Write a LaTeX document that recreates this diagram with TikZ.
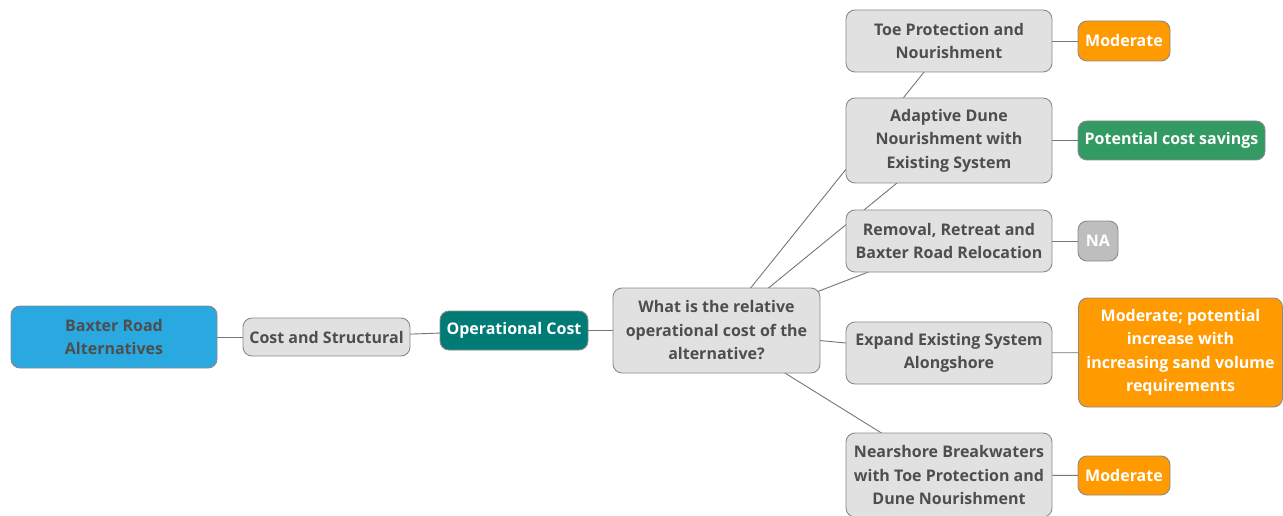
\documentclass[tikz,border=0pt]{standalone}
\usepackage{fontspec}
\setmainfont{Open Sans}
\usetikzlibrary{backgrounds}
\definecolor{rootblue}{HTML}{29A9E0}
\definecolor{tealc}{HTML}{007B76}
\definecolor{boxgrey}{HTML}{E1E1E1}
\definecolor{edgegrey}{HTML}{8A8A8A}
\definecolor{txtgrey}{HTML}{4E4E4E}
\definecolor{orangec}{HTML}{FF9A00}
\definecolor{greenc}{HTML}{349A63}
\definecolor{nagrey}{HTML}{BEBEBE}
\begin{document}
\begin{tikzpicture}[x=1pt,y=-1pt,
  base/.style={draw=edgegrey, line width=0.9pt, rounded corners=9pt, align=center,
    font=\fontsize{16}{23.5}\selectfont\bfseries, inner sep=0pt, text=txtgrey},
  topic/.style={base, fill=boxgrey},
  rootbox/.style={base, fill=rootblue},
  catbox/.style={base, fill=tealc, text=white},
  orangebox/.style={base, fill=orangec, text=white},
  greenbox/.style={base, fill=greenc, text=white},
  nabox/.style={base, fill=nagrey, text=white},
  link/.style={draw=edgegrey!85!black, line width=0.9pt}]
\useasboundingbox (0,0) rectangle (1283,516);

% main chain
\node[rootbox, minimum width=206pt, minimum height=62pt] (root) at (114,337) {Baxter Road\\Alternatives};
\node[topic, minimum width=167pt, minimum height=38pt] (cost) at (326.5,337) {Cost and Structural};
\node[catbox, minimum width=148pt, minimum height=39pt] (opc) at (514,330.5) {Operational Cost};
\node[topic, minimum width=207pt, minimum height=85pt] (q) at (716.5,330.5) {What is the relative\\operational cost of the\\alternative?};

% alternatives
\node[topic, minimum width=206pt, minimum height=62pt] (toe) at (949,41) {Toe Protection and\\Nourishment};
\node[topic, minimum width=206pt, minimum height=85pt] (adapt) at (949,140.5) {Adaptive Dune\\Nourishment with\\Existing System};
\node[topic, minimum width=206pt, minimum height=62pt] (remov) at (949,241) {Removal, Retreat and\\Baxter Road Relocation};
\node[topic, minimum width=206pt, minimum height=62pt] (expand) at (949,353) {Expand Existing System\\Alongshore};
\node[topic, minimum width=206pt, minimum height=84pt] (near) at (949,475) {Nearshore Breakwaters\\with Toe Protection and\\Dune Nourishment};

% ratings
\node[orangebox, minimum width=92pt, minimum height=40pt] (r1) at (1124,41) {Moderate};
\node[greenbox, minimum width=187pt, minimum height=39pt] (r2) at (1171.5,140.5) {Potential cost savings};
\node[nabox, minimum width=40pt, minimum height=40pt] (r3) at (1098,241) {NA};
\node[orangebox, minimum width=204pt, minimum height=109pt] (r4) at (1180.5,352.5) {Moderate; potential\\increase with\\increasing sand volume\\requirements};
\node[orangebox, minimum width=92pt, minimum height=39pt] (r5) at (1124,475.5) {Moderate};

% connectors run centre to centre behind the boxes
\begin{pgfonlayer}{background}
\draw[link] (root.center) -- (cost.center);
\draw[link] (cost.center) -- (opc.center);
\draw[link] (opc.center) -- (q.center);
\foreach \t in {toe,adapt,remov,expand,near}
  \draw[link] (q.center) -- (\t.center);
\draw[link] (toe.center) -- (r1.center);
\draw[link] (adapt.center) -- (r2.center);
\draw[link] (remov.center) -- (r3.center);
\draw[link] (expand.center) -- (r4.center);
\draw[link] (near.center) -- (r5.center);
\end{pgfonlayer}
\end{tikzpicture}
\end{document}
